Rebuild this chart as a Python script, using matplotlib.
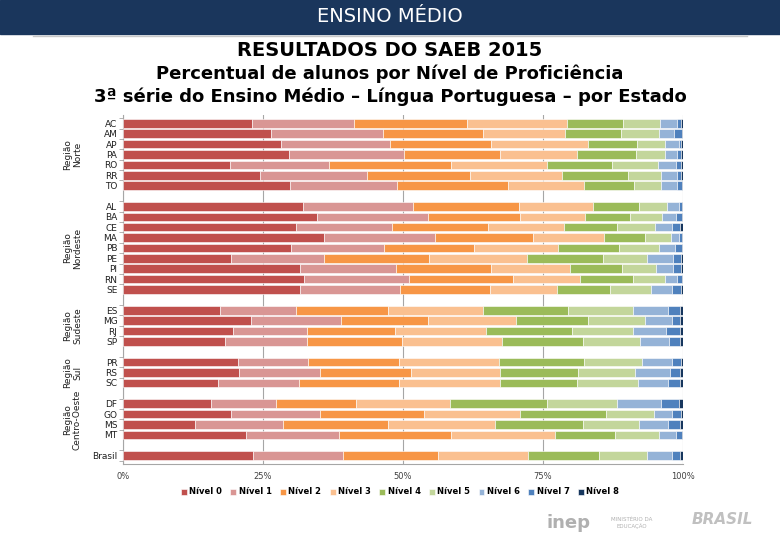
import matplotlib.pyplot as plt
import numpy as np
from matplotlib.patches import Rectangle

# states, top to bottom
estados = ["AC", "AM", "AP", "PA", "RO", "RR", "TO",
           "AL", "BA", "CE", "MA", "PB", "PE", "PI", "RN", "SE",
           "ES", "MG", "RJ", "SP",
           "PR", "RS", "SC",
           "DF", "GO", "MS", "MT",
           "Brasil"]
grupos = [7, 9, 4, 3, 4, 1]
regioes = ["Região\nNorte", "Região\nNordeste", "Região\nSudeste",
           "Região\nSul", "Região\nCentro-Oeste"]

# percentages per level, same order as estados
nivel_0 = [23.1, 26.4, 28.2, 29.7, 19.1, 24.5, 29.8, 32.2, 34.6, 30.9, 35.9, 30.0, 19.3, 31.6,
           32.3, 31.6, 17.3, 22.9, 19.7, 18.3, 20.6, 20.7, 17.0, 15.8, 19.3, 12.9, 21.9, 23.3]
nivel_1 = [18.2, 20.1, 19.4, 20.4, 17.6, 19.1, 19.2, 19.5, 19.9, 17.2, 19.8, 16.6, 16.6, 17.1,
           18.7, 17.9, 13.6, 16.1, 13.2, 14.6, 12.4, 14.5, 14.4, 11.5, 15.9, 15.6, 16.7, 15.9]
nivel_2 = [20.2, 17.7, 18.1, 17.2, 21.9, 18.4, 19.7, 19.0, 16.4, 17.1, 17.6, 16.1, 18.8, 17.0,
           18.7, 16.0, 16.4, 15.5, 15.6, 16.9, 16.3, 16.2, 17.9, 14.3, 18.5, 18.9, 20.0, 17.0]
nivel_3 = [17.7, 14.7, 17.3, 13.7, 17.1, 16.4, 13.7, 13.2, 11.6, 13.6, 12.6, 14.9, 17.4, 14.1,
           11.9, 12.0, 17.0, 15.7, 16.4, 17.9, 17.9, 16.0, 18.0, 16.8, 17.2, 19.0, 18.5, 16.1]
nivel_4 = [10.1, 10.0, 8.8, 10.6, 11.7, 11.8, 8.8, 8.2, 8.0, 9.4, 7.4, 11.0, 13.7, 9.3,
           9.5, 9.5, 15.2, 12.8, 15.2, 14.4, 15.2, 13.9, 13.7, 17.4, 15.3, 15.8, 10.8, 12.7]
nivel_5 = [6.6, 6.8, 4.9, 5.1, 8.1, 5.9, 4.9, 5.0, 5.7, 6.8, 4.5, 7.1, 7.8, 6.1,
           5.6, 7.3, 11.6, 10.2, 11.0, 10.2, 10.2, 10.2, 11.0, 12.4, 8.6, 9.9, 7.8, 8.6]
nivel_6 = [3.1, 2.7, 2.5, 2.3, 3.2, 2.8, 2.9, 2.1, 2.5, 3.1, 1.4, 2.9, 4.6, 3.1,
           2.3, 3.8, 6.3, 4.8, 5.9, 5.2, 5.4, 6.1, 5.4, 7.9, 3.2, 5.3, 3.0, 4.4]
nivel_7 = [0.6, 1.4, 0.4, 0.6, 0.9, 0.7, 0.8, 0.6, 1.1, 1.4, 0.6, 1.2, 1.4, 1.3,
           0.8, 1.5, 2.1, 1.5, 2.4, 2.0, 1.6, 1.9, 2.1, 3.2, 1.6, 2.1, 1.1, 1.5]
nivel_8 = [0.4, 0.2, 0.4, 0.4, 0.4, 0.4, 0.2, 0.2, 0.2, 0.5, 0.2, 0.2, 0.4, 0.4,
           0.2, 0.4, 0.5, 0.5, 0.6, 0.5, 0.4, 0.5, 0.5, 0.7, 0.4, 0.5, 0.2, 0.5]

niveis = [nivel_0, nivel_1, nivel_2, nivel_3, nivel_4, nivel_5, nivel_6, nivel_7, nivel_8]
nomes = ["Nível %d" % i for i in range(9)]
cores = ["#C0504D", "#D99694", "#F79646", "#FAC090", "#9BBB59",
         "#C3D69B", "#95B3D7", "#4F81BD", "#17375E"]

# y positions: one empty slot between groups
pos = []
p = 0
for g in grupos:
    pos += list(range(p, p + g))
    p += g + 1
pos = np.array(pos)

fig = plt.figure(figsize=(7.8, 5.4), dpi=100)

# header band
fig.patches.append(Rectangle((0, 1 - 34 / 540), 1, 34 / 540, transform=fig.transFigure,
                             color="#1A365C", zorder=0))
fig.text(0.5, 1 - 17 / 540, "ENSINO MÉDIO", color="white", ha="center", va="center",
         fontsize=14, family="DejaVu Sans")
fig.add_artist(plt.Line2D([33 / 780, 747 / 780], [1 - 36 / 540, 1 - 36 / 540],
                          transform=fig.transFigure, color="#C8C8C8", lw=1))

titulos = ["RESULTADOS DO SAEB 2015",
           "Percentual de alunos por Nível de Proficiência",
           "3ª série do Ensino Médio – Língua Portuguesa – por Estado"]
for t, y, fs in zip(titulos, [50, 74, 97], [14, 13, 13]):
    fig.text(0.5, 1 - y / 540, t, ha="center", va="center", fontsize=fs,
             fontweight="bold", color="black", family="DejaVu Sans")

ax = fig.add_axes([123 / 780, 1 - 464 / 540, 560 / 780, 349 / 540])

left = np.zeros(len(estados))
for vals, nome, cor in zip(niveis, nomes, cores):
    vals = np.array(vals)
    ax.barh(pos, vals, left=left, height=0.82, color=cor, edgecolor="white",
            linewidth=0.4, label=nome, zorder=3)
    left += vals

ax.set_xlim(0, 100)
ax.set_ylim(pos[-1] + 0.8, -0.8)
ax.set_xticks([0, 25, 50, 75, 100])
ax.set_xticklabels(["0%", "25%", "50%", "75%", "100%"])
ax.xaxis.grid(True, color="#A6A6A6", lw=0.8, zorder=0)
ax.tick_params(axis="x", length=0, labelsize=6, colors="#404040", pad=6)
ax.set_yticks(pos)
ax.set_yticklabels(estados, fontsize=6.5, color="#202020")
ax.tick_params(axis="y", length=0, pad=4)
ax.set_yticks(np.concatenate([pos - 0.5, [pos[-1] + 0.5]]), minor=True)
ax.tick_params(axis="y", which="minor", length=3, color="#A6A6A6")
for s in ["top", "right"]:
    ax.spines[s].set_visible(False)
ax.spines["left"].set_color("#A6A6A6")
ax.spines["bottom"].set_color("#A6A6A6")

# region labels
start = 0
for nome, g in zip(regioes, grupos[:-1]):
    yc = (pos[start] + pos[start + g - 1]) / 2
    ax.text(-9, yc, nome, rotation=90, ha="center", va="center", fontsize=6.5,
            color="#202020", linespacing=1.1, transform=ax.transData, clip_on=False)
    start += g

fig.legend(*ax.get_legend_handles_labels(), loc="center", ncol=9,
           bbox_to_anchor=(400 / 780, 1 - 492 / 540), frameon=False,
           prop={"size": 6, "weight": "bold"},
           handlelength=0.7, handleheight=0.7, handletextpad=0.3, columnspacing=1.0)

# logos (approximate, as text)
fig.text(568 / 780, 1 - 523 / 540, "inep", fontsize=13, fontweight="bold",
         color="#B0B0B0", ha="center", va="center")
fig.text(632 / 780, 1 - 523 / 540, "MINISTÉRIO DA\nEDUCAÇÃO", fontsize=4,
         color="#B0B0B0", ha="center", va="center")
fig.text(722 / 780, 1 - 520 / 540, "BRASIL", fontsize=11, fontweight="bold",
         style="italic", color="#C0C0C0", ha="center", va="center")

fig.savefig("out.png", dpi=100)
